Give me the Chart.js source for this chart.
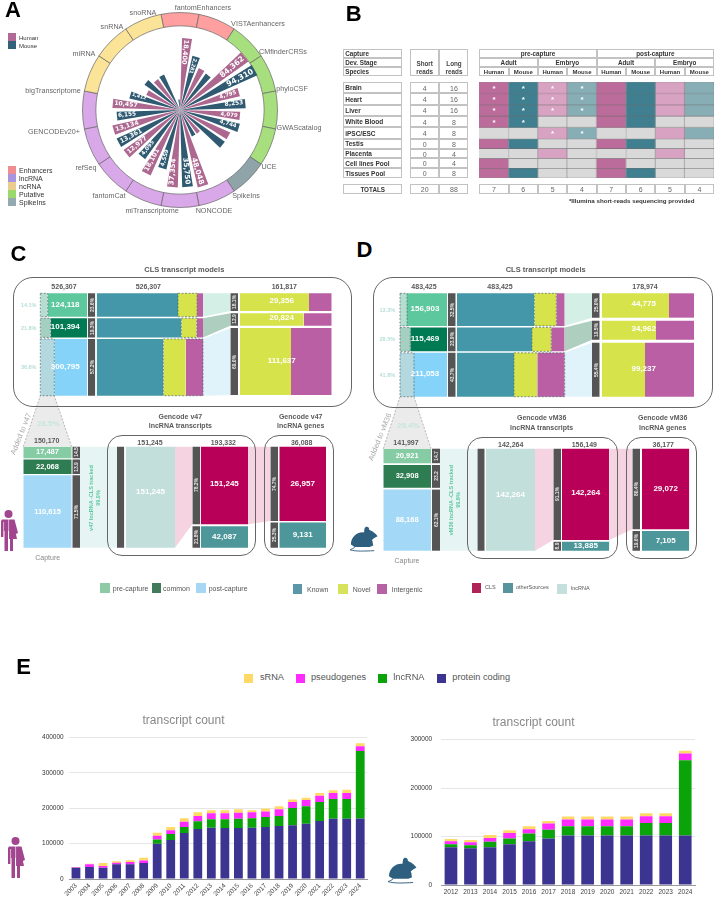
<!DOCTYPE html>
<html>
<head>
<meta charset="utf-8">
<title>CLS figure</title>
<script src="https://cdn.jsdelivr.net/npm/chart.js@4"></script>
<style>
  html, body { margin: 0; padding: 0; background: #fff; }
  #page { position: relative; width: 717px; height: 899px; overflow: hidden; font-family: "Liberation Sans", sans-serif; }
  #page canvas { position: absolute; }
  .txt { position: absolute; white-space: nowrap; line-height: 1; transform-origin: 0 0; z-index: 2; }
  .frame { position: absolute; box-sizing: border-box; border: 1px solid #c2c2c2; background: #fff; }
  .box { position: absolute; box-sizing: border-box; border: 1.3px solid #666; }
  .swatch { position: absolute; }
  svg { position: absolute; }
</style>
</head>
<body>
<div id="page"></div>
<script>
// ---- panel A: values per bar, clockwise, human and mouse in turn
const ringCategories = ["fantomEnhancers", "VISTAenhancers", "CMfinderCRSs", "phyloCSF", "GWAScatalog", "UCE", "SpikeIns", "NONCODE", "miTranscriptome", "fantomCat", "refSeq", "GENCODEv20+", "bigTranscriptome", "miRNA", "snRNA", "snoRNA"];
const ringGroups = ["Enhancers", "Enhancers", "Putative", "Putative", "Putative", "Putative", "SpikeIns", "lncRNA", "lncRNA", "lncRNA", "lncRNA", "lncRNA", "lncRNA", "ncRNA", "ncRNA", "ncRNA"];
const radialCounts = [18400, 2281, 656, 556, 84362, 94310, 4795, 8253, 4079, 4744, 2090, 2090, 75, 75, 48048, 35750, 37354, 4559, 18101, 4095, 12977, 13361, 13134, 6155, 10457, 1412, 207, 481, 235, 267, 0, 7];
const radialTags = ["18,400", "2,281", "", "", "84,362", "94,310", "4,795", "8,253", "4,079", "4,744", "", "", "", "", "48,048", "35,750", "37,354", "4,559", "18,101", "4,095", "12,977", "13,361", "13,134", "6,155", "10,457", "1,412", "", "", "", "", "", ""];

// ---- panel B
const libraryRows = ["Brain", "Heart", "Liver", "White Blood", "iPSC/ESC", "Testis", "Placenta", "Cell lines Pool", "Tissues Pool"];
const shortReads = [4, 4, 4, 4, 4, 0, 0, 0, 0];
const longReads = [16, 16, 16, 8, 8, 8, 4, 4, 8];
const sampled = [
  [1, 1, 1, 1, 1, 1, 1, 1],
  [1, 1, 1, 1, 1, 1, 1, 1],
  [1, 1, 1, 1, 1, 1, 1, 1],
  [1, 1, 0, 0, 1, 1, 0, 0],
  [0, 0, 1, 1, 0, 0, 1, 1],
  [1, 1, 0, 0, 1, 1, 0, 0],
  [0, 0, 1, 0, 0, 0, 1, 0],
  [1, 0, 0, 0, 1, 0, 0, 0],
  [1, 1, 0, 0, 1, 1, 0, 0],
];
const illumina = [
  [1, 1, 1, 1],
  [1, 1, 1, 1],
  [1, 1, 1, 1],
  [1, 1, 0, 0],
  [0, 0, 1, 1],
];
const columnTotals = [7, 6, 5, 4, 7, 6, 5, 4];

// ---- panel C
const cCapture = [124118, 101394, 300795];
const cAddedShare = [15.7, 22, 29.8];
const cAddedPct = ["14.1%", "21.8%", "36.8%"];
const cCapturePct = ["23.6%", "19.3%", "57.2%"];
const cKnown = [76.5, 79.6, 62.7];
const cNovel = [17.9, 14.5, 21.1];
const cModels = [29356, 20824, 111637];
const cModelsPct = ["18.1%", "12.9", "69.0%"];
const cModelsNovel = [75.2, 69.5, 55.6];
const cStack = [17487, 22068, 110615];
const cStackPct = ["14.5", "13.9", "71.5%"];
const cTranscripts = [151245, 42087];
const cTranscriptsPct = ["78.2%", "21.8%"];
const cGenes = [26957, 9131];
const cGenesPct = ["74.7%", "25.3%"];

// ---- panel D
const dCapture = [156903, 115469, 211053];
const dAddedShare = [14.9, 21.9, 29.8];
const dAddedPct = ["13.3%", "28.5%", "41.8%"];
const dCapturePct = ["32.5%", "23.9%", "43.7%"];
const dKnown = [71.8, 69.6, 52.9];
const dNovel = [20.4, 17.9, 21.6];
const dModels = [44775, 34962, 99237];
const dModelsPct = ["25.0%", "19.5%", "55.4%"];
const dModelsNovel = [72.9, 58.8, 46.9];
const dStack = [20921, 32908, 88168];
const dStackPct = ["14.7", "23.2", "62.1%"];
const dTranscripts = [142264, 13885];
const dTranscriptsPct = ["91.1%", "8.9"];
const dGenes = [29072, 7105];
const dGenesPct = ["80.4%", "19.6%"];

// ---- panel E
const humanYears = ["2003", "2004", "2005", "2006", "2007", "2008", "2009", "2010", "2011", "2012", "2013", "2014", "2015", "2016", "2017", "2018", "2019", "2020", "2021", "2022", "2023", "2024"];
const humanProtein = [32000, 34000, 32000, 42000, 42000, 45000, 100000, 110000, 130000, 141000, 145000, 144000, 144000, 145000, 147000, 150000, 152000, 156000, 164000, 170000, 170000, 171000];
const humanLnc = [0, 0, 0, 0, 0, 0, 12000, 17000, 17000, 22000, 24000, 25000, 26000, 27000, 28000, 28000, 49000, 50000, 54000, 56000, 56000, 191000];
const humanPseudo = [1500, 8000, 5000, 4000, 6000, 7000, 10000, 11000, 15000, 15000, 17000, 17000, 17000, 17000, 16000, 19000, 17000, 17000, 17000, 17000, 17000, 13000];
const humanSrna = [500, 1000, 8000, 4000, 5000, 8000, 9000, 9000, 10000, 11000, 8000, 8000, 10000, 5000, 8000, 9000, 7000, 7000, 8000, 8000, 9000, 9000];
const mouseYears = ["2012", "2013", "2014", "2015", "2016", "2017", "2018", "2019", "2020", "2021", "2022", "2023", "2024"];
const mouseProtein = [78000, 76000, 78000, 84000, 90000, 96000, 102000, 102000, 102000, 102000, 102000, 102000, 102000];
const mouseLnc = [6000, 6000, 11000, 12000, 16000, 18000, 19000, 19000, 19000, 19000, 26000, 26000, 155000];
const mousePseudo = [6000, 6000, 8000, 11000, 9000, 13000, 14000, 14000, 14000, 14000, 14000, 14000, 14000];
const mouseSrna = [5000, 5000, 6000, 6000, 6000, 5000, 6000, 6000, 6000, 6000, 6000, 6000, 6000];

const page = document.getElementById("page");
const GREY = "#5a5a5a";
const FMT = (n) => n.toLocaleString("en-US");

// rotation goes round the anchor, so the anchor stays where it was asked to be
function label(text, x, y, o = {}) {
  const el = document.createElement("div");
  el.className = "txt";
  el.textContent = text;
  const size = o.size || 7;
  el.style.cssText = `left:${x}px;top:${y}px;font-size:${size}px;color:${o.color || GREY};font-weight:${o.weight || "normal"};font-family:${o.family || '"Liberation Sans"'};`;
  const tx = o.align === "left" ? "0" : "-50%";
  el.style.transform = `rotate(${o.rot || 0}deg) translate(${tx},-50%)`;
  page.appendChild(el);
}
function bold(text, x, y, size, color, rot) {
  label(text, x, y, { size, color: color || GREY, weight: "bold", rot: rot || 0 });
}
function swatch(x0, y0, size, color) {
  const el = document.createElement("div");
  el.className = "swatch";
  el.style.cssText = `left:${x0}px;top:${y0}px;width:${size}px;height:${size}px;background:${color};`;
  page.appendChild(el);
}
function frame(x0, x1, y0, y1) {
  const el = document.createElement("div");
  el.className = "frame";
  el.style.cssText = `left:${x0}px;top:${y0}px;width:${x1 - x0}px;height:${y1 - y0}px;`;
  page.appendChild(el);
}
function roundBox(x0, x1, y0, y1, r) {
  const el = document.createElement("div");
  el.className = "box";
  el.style.cssText = `left:${x0}px;top:${y0}px;width:${x1 - x0}px;height:${y1 - y0}px;border-radius:${r}px;`;
  page.appendChild(el);
}
function addCanvas(x, y, w, h) {
  const c = document.createElement("canvas");
  c.width = w;
  c.height = h;
  c.style.cssText = `left:${x}px;top:${y}px;width:${w}px;height:${h}px;`;
  page.appendChild(c);
  return c;
}
function humanIcon(x, y, w, h) {
  page.insertAdjacentHTML("beforeend", `<svg style="left:${x}px;top:${y}px" width="${w}" height="${h}" viewBox="0 0 18 41" fill="#a2458f"><circle cx="8.5" cy="4" r="4"/><path d="M2 9.5H14.5L18 23 15.8 24 14 15 17 29H13V41H10V29H9V21H8V41H4.5V21H3.8V27H1V11Z"/><path d="M3.6 12V27M8.6 9V41" stroke="#fff" stroke-width=".6"/></svg>`);
}
function mouseIcon(x, y, w, h) {
  page.insertAdjacentHTML("beforeend", `<svg style="left:${x}px;top:${y}px" width="${w}" height="${h}" viewBox="0 0 30 28" fill="#2f5f7e"><path d="M1 20C1 11 9 6 15 7L15.5 3C16.5-.5 21 .5 20.5 4L22 5C25 6 28 9 29.5 11L26 13 23.5 15C25 17 24 20 25 21L21 22.5H5Z"/><path d="M5 23C2 25 0 25.5 0 25.5 6 27.5 15 27 26 26.5" fill="none" stroke="#2f5f7e" stroke-width="1"/></svg>`);
}

// ---------------------------------------------------------------- panel A
const RING_COLORS = { Enhancers: "#ff9f9f", Putative: "#a7de7e", SpikeIns: "#8fa4a9", lncRNA: "#d9a8e8", ncRNA: "#fbe398" };
const LEGEND_COLORS = { Enhancers: "#ee8e8e", lncRNA: "#a996e2", ncRNA: "#ebcd8d", Putative: "#9ad96c", SpikeIns: "#95a9b0" };
const ringLabelAt = [[203, 8], [258, 24], [283, 52], [292, 89], [299, 128], [269, 167], [246, 196], [214, 211], [152, 211], [109, 196], [86, 168], [54, 132], [53, 91], [84, 54], [112, 27], [143, 13]];
const RADIAL_MIN = 0.26;
const RADIAL_MAX = 5.82;
const CX = 179.5;
const CY = 109.7;

new Chart(addCanvas(CX - 100, CY - 100, 200, 200), {
  type: "doughnut",
  data: {
    labels: ringCategories,
    datasets: [{
      data: ringCategories.map(() => 1),
      backgroundColor: ringGroups.map((g) => RING_COLORS[g]),
      borderColor: "#666",
      borderWidth: 0.7,
    }],
  },
  options: {
    animation: false,
    responsive: false,
    radius: 97.5,
    cutout: 86,
    rotation: -11.25,
    plugins: { legend: { display: false }, tooltip: { enabled: false } },
  },
});

// every second slice is an empty spacer, so the wedges stand apart
const radialData = [];
const radialColors = [];
radialCounts.forEach((v, i) => {
  radialData.push(Math.max(RADIAL_MIN, Math.log10(v)));
  radialColors.push(i % 2 ? "#2f5a72" : "#ad6890");
  radialData.push(RADIAL_MIN);
  radialColors.push("rgba(0,0,0,0)");
});
const radialChart = new Chart(addCanvas(CX - 100, CY - 100, 200, 200), {
  type: "polarArea",
  data: {
    labels: radialData.map(() => ""),
    datasets: [{
      data: radialData,
      backgroundColor: radialColors,
      borderWidth: 0,
      circular: false,
      angle: (ctx) => (ctx.dataIndex % 2 ? 3.25 : 8),
    }],
  },
  options: {
    animation: false,
    responsive: false,
    layout: { padding: 0 },
    scales: { r: { display: false, min: RADIAL_MIN, max: RADIAL_MAX, startAngle: 1.625 } },
    plugins: { legend: { display: false }, tooltip: { enabled: false } },
  },
});

const measure = document.createElement("canvas").getContext("2d");
radialTags.forEach((tag, i) => {
  if (!tag) return;
  const bearing = 5.625 + 11.25 * i;
  const rad = (bearing * Math.PI) / 180;
  const tip = radialChart.scales.r.getDistanceFromCenterForValue(Math.log10(radialCounts[i]));
  const size = tip * 0.09;
  const font = '"DejaVu Sans"';
  measure.font = `bold ${size}px ${font}`;
  const r = tip - measure.measureText(tag).width / 2 - 2;
  const rot = bearing < 20 ? bearing + 90 : bearing < 180 ? bearing - 90 : bearing - 270;
  label(tag, CX + r * Math.sin(rad), CY - r * Math.cos(rad), { size, color: "#fff", weight: "bold", family: font, rot });
});
ringCategories.forEach((name, i) => {
  label(name, ringLabelAt[i][0], ringLabelAt[i][1], { size: 7.2, color: "#666" });
});
[["Human", "#b06a95"], ["Mouse", "#33617a"]].forEach(([name, color], i) => {
  swatch(8, 33 + i * 8, 8, color);
  label(name, 19, 37.5 + i * 8, { size: 6, color: "#333", align: "left" });
});
Object.keys(LEGEND_COLORS).forEach((name, i) => {
  swatch(8, 166 + i * 8.1, 8, LEGEND_COLORS[name]);
  label(name, 19, 170 + i * 8.1, { size: 7, color: "#333", align: "left" });
});

// ---------------------------------------------------------------- panel B
const HEAT_COLORS = ["#bc6c9b", "#3f7f90", "#d8a2c2", "#88aeb5"];
const HEAT_LEFT = 479.3;
const HEAT_RIGHT = 714;
const COL_W = (HEAT_RIGHT - HEAT_LEFT) / 8;
const ROW_EDGES = [82, 93.3, 104.7, 116, 127.3, 138.7, 148.7, 158.3, 168.3, 178.3];

function heatBlock(first, last) {
  const top = ROW_EDGES[first];
  const h = ROW_EDGES[last] - top;
  const names = libraryRows.slice(first, last);
  const datasets = columnTotals.map((_, col) => ({
    data: names.map(() => 1),
    backgroundColor: names.map((_, r) => (sampled[first + r][col] ? HEAT_COLORS[col % 4] : "#d9d9d9")),
    borderColor: "#6d6d6d",
    borderWidth: 0.5,
    barPercentage: 1,
    categoryPercentage: 1,
  }));
  new Chart(addCanvas(HEAT_LEFT, top, HEAT_RIGHT - HEAT_LEFT, h), {
    type: "bar",
    data: { labels: names, datasets },
    options: {
      animation: false,
      responsive: false,
      indexAxis: "y",
      layout: { padding: 0 },
      scales: {
        x: { display: false, stacked: true, min: 0, max: 8 },
        y: { display: false, stacked: true },
      },
      plugins: { legend: { display: false }, tooltip: { enabled: false } },
    },
  });
}
heatBlock(0, 5);
heatBlock(5, 9);

const headBand = [49, 58, 67, 76];
["Capture", "Dev. Stage", "Species"].forEach((name, i) => {
  frame(343.3, 401.7, headBand[i], headBand[i + 1]);
  label(name, 345.2, (headBand[i] + headBand[i + 1]) / 2 + 0.3, { size: 6.3, color: "#333", weight: "bold", align: "left" });
});
frame(410, 439.3, 49, 76);
frame(439.3, 468.3, 49, 76);
[["Short", 424.7], ["Long", 454]].forEach(([name, x]) => {
  bold(name, x, 64.3, 6.3, "#444");
  bold("reads", x, 71.7, 6.3, "#444");
});
["pre-capture", "post-capture"].forEach((name, i) => {
  const x0 = HEAT_LEFT + i * 4 * COL_W;
  frame(x0, x0 + 4 * COL_W, 49, 58);
  bold(name, x0 + 2 * COL_W, 53.7, 6.3, "#333");
  ["Adult", "Embryo"].forEach((stage, j) => {
    const x1 = x0 + j * 2 * COL_W;
    frame(x1, x1 + 2 * COL_W, 58, 67);
    bold(stage, x1 + COL_W, 62.7, 6.3, "#333");
    ["Human", "Mouse"].forEach((sp, k) => {
      const x2 = x1 + k * COL_W;
      frame(x2, x2 + COL_W, 67, 76);
      bold(sp, x2 + COL_W / 2, 71.7, 6, "#333");
    });
  });
});
libraryRows.forEach((name, r) => {
  const y0 = ROW_EDGES[r];
  const y1 = ROW_EDGES[r + 1];
  const mid = (y0 + y1) / 2;
  frame(343.3, 401.7, y0, y1);
  frame(410, 439.3, y0, y1);
  frame(439.3, 468.3, y0, y1);
  label(name, 345.2, mid + 0.5, { size: 6.5, color: "#333", weight: "bold", align: "left" });
  label(String(shortReads[r]), 424.7, mid, { size: 7, color: "#666" });
  label(String(longReads[r]), 454, mid, { size: 7, color: "#666" });
});
illumina.forEach((row, r) => {
  row.forEach((on, col) => {
    if (on) bold("*", HEAT_LEFT + (col + 0.5) * COL_W, (ROW_EDGES[r] + ROW_EDGES[r + 1]) / 2 + 1, 8, "#fff");
  });
});
frame(343.3, 401.7, 184, 194);
bold("TOTALS", 372.7, 189.5, 6.3, "#333");
frame(410, 439.3, 184, 194);
frame(439.3, 468.3, 184, 194);
label(String(shortReads.reduce((a, b) => a + b, 0)), 424.7, 189, { size: 7, color: "#666" });
label(String(longReads.reduce((a, b) => a + b, 0)), 454, 189, { size: 7, color: "#666" });
columnTotals.forEach((n, col) => {
  frame(HEAT_LEFT + col * COL_W, HEAT_LEFT + (col + 1) * COL_W, 184, 194);
  label(String(n), HEAT_LEFT + (col + 0.5) * COL_W, 189, { size: 7, color: "#666" });
});
bold("*Illumina short-reads sequencing provided", 631.7, 200.7, 6.2, "#333");

// ---------------------------------------------------------------- panels C, D
const FLOW = {
  added: ["#b5ddd0", "#a5cfc0", "#b3d8e0"],
  capture: ["#5dc79e", "#007a53", "#86d3fa"],
  stack: ["#85cba4", "#2e7d52", "#a3d8f7"],
  links: ["#d4f0e6", "#aecfc0", "#e0f3fb"],
  known: "#4497a8",
  novel: "#d6e34a",
  intergenic: "#bb5fa4",
  dark: "#555",
  cls: "#b80058",
  other: "#4d979b",
  lnc: "#c2dfdc",
  pink: "#f5d3e0",
};

// heights follow the values, with small gaps taken off the block first
function rowsOf(values, top, bottom, gap) {
  const total = values.reduce((a, b) => a + b, 0);
  const free = bottom - top - gap * (values.length - 1);
  let y = top;
  return values.map((v) => {
    const y0 = y;
    const y1 = y0 + (free * v) / total;
    y = y1 + gap;
    return { y0, y1, mid: (y0 + y1) / 2 };
  });
}
function rect(x0, x1, y0, y1, color) {
  return { data: [{ x: x0, y: y0 }, { x: x1, y: y0 }], fill: { value: y1 }, backgroundColor: color, borderWidth: 0 };
}
function band(x0, x1, a0, a1, b0, b1, color) {
  return [
    { data: [{ x: x0, y: a0 }, { x: x1, y: a1 }], fill: "+1", backgroundColor: color, borderWidth: 0 },
    { data: [{ x: x0, y: b0 }, { x: x1, y: b1 }], fill: false, borderWidth: 0 },
  ];
}
function dashed(points, color) {
  return { data: points, fill: false, borderColor: color || "#4d6a6a", borderWidth: 0.7, borderDash: [2, 1.5] };
}
function outline(x0, x1, y0, y1) {
  return dashed([{ x: x0, y: y0 }, { x: x1, y: y0 }, { x: x1, y: y1 }, { x: x0, y: y1 }, { x: x0, y: y0 }]);
}

function flowPanel(p) {
  const L = p.layout;
  const fills = [];
  const lines = [];
  const top = rowsOf(p.capture, L.topY, L.topB, 1.5);
  const right = rowsOf(p.models, L.topY, L.rightB, L.rightGap);
  const low = rowsOf(p.stack, L.lowY, L.lowB, L.stackGap);
  const tr = rowsOf(p.transcripts, L.lowY, L.lowB, L.trGap);
  const ge = rowsOf(p.genes, L.lowY, L.lowB, L.geGap);
  const capW = L.cap[1] - L.cap[0];
  const segW = L.seg[1] - L.seg[0];
  const rW = L.right[1] - L.right[0];

  top.forEach((row, i) => {
    const xAdd = L.cap[0] + (capW * p.addedShare[i]) / 100;
    fills.push(rect(L.cap[0], xAdd, row.y0, row.y1, FLOW.added[i]));
    fills.push(rect(xAdd, L.cap[1], row.y0, row.y1, FLOW.capture[i]));
    lines.push(outline(L.cap[0], xAdd, row.y0, row.y1));
    fills.push(rect(L.pct[0], L.pct[1], row.y0, row.y1, FLOW.dark));
    const xKnown = L.seg[0] + (segW * p.known[i]) / 100;
    const xNovel = xKnown + (segW * p.novel[i]) / 100;
    fills.push(rect(L.seg[0], xKnown, row.y0, row.y1, FLOW.known));
    fills.push(rect(xKnown, xNovel, row.y0, row.y1, FLOW.novel));
    fills.push(rect(xNovel, L.seg[1], row.y0, row.y1, FLOW.intergenic));
    lines.push(outline(xKnown, i === 2 ? L.seg[1] : xNovel, row.y0, row.y1));
    fills.push(...band(L.seg[1], L.rpct[0], row.y0, right[i].y0, row.y1, right[i].y1, FLOW.links[i]));
    label(FMT(p.capture[i]), L.cap[0] + capW / 2 + 1.5, row.mid - 0.5, { size: 8, color: "#fff", weight: "bold" });
    label(p.addedPct[i], L.addedX, row.mid + 1, { size: 5.5, color: "#b7ded8", weight: "bold" });
    bold(p.capturePct[i], (L.pct[0] + L.pct[1]) / 2, row.mid, 5, "#e8e8e8", -90);
  });
  right.forEach((row, i) => {
    const xNovel = L.right[0] + (rW * p.modelsNovel[i]) / 100;
    fills.push(rect(L.rpct[0], L.rpct[1], row.y0, row.y1, FLOW.dark));
    fills.push(rect(L.right[0], xNovel, row.y0, row.y1, FLOW.novel));
    fills.push(rect(xNovel, L.right[1], row.y0, row.y1, FLOW.intergenic));
    label(FMT(p.models[i]), L.right[0] + rW * 0.455, row.mid - 1, { size: 8, color: "#fff", weight: "bold" });
    bold(p.modelsPct[i], (L.rpct[0] + L.rpct[1]) / 2, row.mid, 5, "#e8e8e8", -90);
  });

  // grey funnel from the post-capture block down to the capture stack
  const added = L.cap[0] + (capW * p.addedShare[2]) / 100;
  fills.push({
    data: [{ x: L.stack[0], y: L.lowY }, { x: L.cap[0], y: L.topB }, { x: added, y: L.topB }, { x: L.stack[1], y: L.lowY }],
    fill: { value: L.lowY },
    backgroundColor: "#ebebeb",
    borderWidth: 0,
  });
  lines.push(dashed([{ x: L.stack[0], y: L.lowY }, { x: L.cap[0], y: L.topB }], "#999"));
  lines.push(dashed([{ x: L.stack[1], y: L.lowY }, { x: added, y: L.topB }], "#999"));

  low.forEach((row, i) => {
    fills.push(rect(L.stack[0], L.stack[1], row.y0, row.y1, FLOW.stack[i]));
    fills.push(rect(L.spct[0], L.spct[1], row.y0, row.y1, FLOW.dark));
    label(FMT(p.stack[i]), (L.stack[0] + L.stack[1]) / 2, row.mid, { size: 7.5, color: "#fff", weight: "bold" });
    bold(p.stackPct[i], (L.spct[0] + L.spct[1]) / 2, row.mid, 5, "#e8e8e8", -90);
  });
  const lowEnd = low[2].y1;
  fills.push(rect(L.spct[1], L.bar[0], L.lowY, lowEnd, "#e6f5f3"));
  fills.push(rect(L.bar[0], L.bar[1], L.lowY, L.lowB, FLOW.dark));
  fills.push(rect(L.lnc[0], L.lnc[1], L.lowY, L.lowB, FLOW.lnc));
  label(FMT(p.transcripts[0]), (L.lnc[0] + L.lnc[1]) / 2, L.lnc[2], { size: 8, color: "#fff", weight: "bold" });

  fills.push(...band(L.lnc[1], L.trPct[0], L.lowY, L.lowY, L.lowB, tr[0].y1, FLOW.pink));
  fills.push(...band(L.tr[1], L.gePct[0], L.lowY, L.lowY, tr[0].y1, ge[0].y1, FLOW.pink));
  tr.forEach((row, i) => {
    fills.push(rect(L.trPct[0], L.trPct[1], row.y0, row.y1, FLOW.dark));
    fills.push(rect(L.tr[0], L.tr[1], row.y0, row.y1, i ? FLOW.other : FLOW.cls));
    label(FMT(p.transcripts[i]), (L.tr[0] + L.tr[1]) / 2, i ? row.mid : row.mid - 1, { size: 8, color: "#fff", weight: "bold" });
    bold(p.transcriptsPct[i], (L.trPct[0] + L.trPct[1]) / 2, row.mid, 5, "#e8e8e8", -90);
  });
  ge.forEach((row, i) => {
    fills.push(rect(L.gePct[0], L.gePct[1], row.y0, row.y1, FLOW.dark));
    fills.push(rect(L.ge[0], L.ge[1], row.y0, row.y1, i ? FLOW.other : FLOW.cls));
    label(FMT(p.genes[i]), (L.ge[0] + L.ge[1]) / 2, row.mid, { size: 8, color: "#fff", weight: "bold" });
    bold(p.genesPct[i], (L.gePct[0] + L.gePct[1]) / 2, row.mid, 5, "#e8e8e8", -90);
  });

  const [cx0, cx1, cy0, cy1] = L.canvas;
  const datasets = lines.concat(fills).map((d) => Object.assign({ showLine: true, pointRadius: 0 }, d));
  new Chart(addCanvas(cx0, cy0, cx1 - cx0, cy1 - cy0), {
    type: "scatter",
    data: { datasets },
    options: {
      animation: false,
      responsive: false,
      layout: { padding: 0 },
      scales: {
        x: { type: "linear", display: false, min: cx0, max: cx1 },
        y: { type: "linear", display: false, min: cy0, max: cy1, reverse: true },
      },
      plugins: { legend: { display: false }, tooltip: { enabled: false } },
    },
  });
}

flowPanel({
  capture: cCapture, addedShare: cAddedShare, addedPct: cAddedPct, capturePct: cCapturePct,
  known: cKnown, novel: cNovel, models: cModels, modelsPct: cModelsPct, modelsNovel: cModelsNovel,
  stack: cStack, stackPct: cStackPct, transcripts: cTranscripts, transcriptsPct: cTranscriptsPct,
  genes: cGenes, genesPct: cGenesPct,
  layout: {
    canvas: [0, 356, 280, 562],
    topY: 293.3, topB: 395.7, rightB: 395, rightGap: 2.3,
    lowY: 446.7, lowB: 547.7, stackGap: 1.4, trGap: 2, geGap: 1.5,
    cap: [40.3, 87.3], pct: [88, 95.3], seg: [96.7, 203], rpct: [230.3, 238], right: [240, 331.7],
    addedX: 28.7, stack: [23.3, 71.7], spct: [72.3, 80], bar: [116.7, 124.3], lnc: [126, 175, 492.3],
    trPct: [192.3, 200], tr: [200.7, 248], gePct: [270.3, 278], ge: [279.3, 326],
  },
});
flowPanel({
  capture: dCapture, addedShare: dAddedShare, addedPct: dAddedPct, capturePct: dCapturePct,
  known: dKnown, novel: dNovel, models: dModels, modelsPct: dModelsPct, modelsNovel: dModelsNovel,
  stack: dStack, stackPct: dStackPct, transcripts: dTranscripts, transcriptsPct: dTranscriptsPct,
  genes: dGenes, genesPct: dGenesPct,
  layout: {
    canvas: [358, 717, 280, 562],
    topY: 293.3, topB: 396.7, rightB: 396.7, rightGap: 3,
    lowY: 448.7, lowB: 550.7, stackGap: 1.8, trGap: 1.7, geGap: 1.7,
    cap: [400, 447], pct: [448, 455.7], seg: [457, 564.7], rpct: [592, 599.7], right: [601.7, 694],
    addedX: 387.3, stack: [383.3, 431], spct: [432, 440], bar: [477.3, 484.7], lnc: [486, 535, 494.7],
    trPct: [553.3, 561], tr: [562, 609.3], gePct: [632.3, 640], ge: [642, 689.3],
  },
});

// frames and headings of C and D
roundBox(13.3, 352, 276.7, 407.3, 20);
roundBox(106.7, 256, 435, 556, 15);
roundBox(264.3, 334.3, 435, 556, 15);
bold("CLS transcript models", 184.3, 269.7, 7.5);
bold("526,307", 64, 286.3, 7);
bold("526,307", 148.3, 286.3, 7);
bold("161,817", 284.3, 286.3, 7);
bold("Gencode v47", 180.3, 415.7, 7);
bold("lncRNA transcripts", 180.3, 425.3, 7);
bold("Gencode v47", 300.7, 415.7, 7);
bold("lncRNA genes", 300.7, 425.3, 7);
bold("151,245", 150, 441.7, 7);
bold("193,332", 223.3, 441.7, 7);
bold("36,088", 301.7, 441.7, 7);
bold("150,170", 46.7, 440, 7);
bold("28.5%", 48.3, 424, 8, "#c5e6dd");
label("Added to v47", 20.7, 434, { size: 7.5, color: "#aaa", rot: -68 });
label("Capture", 47.7, 556.7, { size: 7, color: "#888" });
bold("v47 lncRNA -CLS tracked", 91.7, 498, 5.5, "#5dc79e", -90);
bold("99.9%", 99.3, 498, 5.5, "#5dc79e", -90);

roundBox(372.7, 712.7, 276.7, 408.3, 20);
roundBox(466.7, 617.7, 436.7, 559.3, 15);
roundBox(626, 697.3, 436.7, 559.3, 15);
bold("CLS transcript models", 545.7, 269.7, 7.5);
bold("483,425", 424, 286.3, 7);
bold("483,425", 500, 286.3, 7);
bold("178,974", 645, 286.3, 7);
bold("Gencode vM36", 541.7, 417.3, 7);
bold("lncRNA transcripts", 541.7, 427, 7);
bold("Gencode vM36", 662.7, 417.3, 7);
bold("lncRNA genes", 662.7, 427, 7);
bold("142,264", 510.7, 443.7, 7);
bold("156,149", 584.3, 443.7, 7);
bold("36,177", 663.3, 443.7, 7);
bold("141,997", 406, 441.7, 7);
bold("29.4%", 408.3, 425.7, 8, "#c5e6dd");
label("Added to vM36", 380, 436.7, { size: 7.5, color: "#aaa", rot: -68 });
label("Capture", 407, 559.7, { size: 7, color: "#888" });
bold("vM36 lncRNA -CLS tracked", 451.7, 500, 5.5, "#5dc79e", -90);
bold("99.8%", 459.3, 500, 5.5, "#5dc79e", -90);

// legends under C and D
[
  ["pre-capture", 100.3, 583.3, "#8fcaa6", 112.7, 7],
  ["common", 151.7, 583.3, "#447a5c", 163, 7],
  ["post-capture", 196, 583.3, "#a7d7f5", 208.7, 7],
  ["Known", 292.7, 584.3, "#5a98a8", 307, 7],
  ["Novel", 338.3, 584.3, "#d8e35c", 352.7, 7],
  ["Intergenic", 377.3, 584.3, "#b563a5", 391.7, 7],
  ["CLS", 471.7, 583.3, "#b0225a", 485, 5.5],
  ["otherSources", 503, 583.3, "#58949c", 516, 5.5],
  ["lncRNA", 557, 584.3, "#c4dfdc", 571, 5.5],
].forEach(([name, sx, sy, color, tx, size]) => {
  swatch(sx, sy, 9.5, color);
  label(name, tx, sy + 4.8, { size, color: "#555", align: "left" });
});

humanIcon(0, 510, 18, 41);
mouseIcon(350, 525, 28, 28);

// ---------------------------------------------------------------- panel E
const E_COLORS = { protein: "#3b3491", lnc: "#0aa40a", pseudo: "#ff2bff", srna: "#ffd966" };

function countChart(o) {
  const sets = [
    ["protein coding", o.protein, E_COLORS.protein],
    ["lncRNA", o.lnc, E_COLORS.lnc],
    ["pseudogenes", o.pseudo, E_COLORS.pseudo],
    ["sRNA", o.srna, E_COLORS.srna],
  ];
  new Chart(addCanvas(o.x, o.y, o.w, o.h), {
    type: "bar",
    data: {
      labels: o.years,
      datasets: sets.map(([name, data, color]) => ({ label: name, data, backgroundColor: color, barPercentage: 0.65, categoryPercentage: 1 })),
    },
    options: {
      animation: false,
      responsive: false,
      layout: { padding: { right: o.padRight, top: 0, left: 0, bottom: 0 } },
      scales: {
        x: {
          stacked: true,
          grid: { display: false, drawTicks: false },
          border: { display: true, color: "#999" },
          ticks: { color: "#444", font: { size: o.xFont, family: "Liberation Sans" }, maxRotation: o.rot, minRotation: o.rot, autoSkip: false, padding: o.xPad },
          afterFit: (s) => { s.height = o.xAxisH; },
        },
        y: {
          stacked: true,
          min: 0,
          max: o.max,
          border: { display: false },
          grid: { color: "#e6e6e6", drawTicks: false },
          ticks: { stepSize: 100000, color: "#333", font: { size: 6.5, family: "Liberation Sans" }, padding: o.yPad, callback: (v) => String(v) },
          afterFit: (s) => { s.width = o.yAxisW; },
        },
      },
      plugins: {
        legend: { display: false },
        tooltip: { enabled: false },
        title: {
          display: true,
          text: "transcript count",
          color: "#888",
          font: { size: 12, weight: "normal", family: "Liberation Sans" },
          padding: { top: o.titleTop, bottom: o.titleBottom },
        },
      },
    },
  });
}
countChart({
  x: 0, y: 710, w: 372, h: 189, years: humanYears, protein: humanProtein, lnc: humanLnc, pseudo: humanPseudo, srna: humanSrna,
  max: 400000, rot: 45, xFont: 6.5, xAxisH: 20, xPad: 3, yAxisW: 69.2, padRight: 5, yPad: 5.5, titleTop: 3.6, titleBottom: 9.5,
});
countChart({
  x: 372, y: 712, w: 345, h: 187, years: mouseYears, protein: mouseProtein, lnc: mouseLnc, pseudo: mousePseudo, srna: mouseSrna,
  max: 300000, rot: 0, xFont: 6.5, xAxisH: 14, xPad: 3, yAxisW: 69.2, padRight: 22, yPad: 9, titleTop: 3.6, titleBottom: 9.5,
});
[
  ["sRNA", 244, E_COLORS.srna, 260],
  ["pseudogenes", 296, E_COLORS.pseudo, 311],
  ["lncRNA", 378, E_COLORS.lnc, 393.3],
  ["protein coding", 437, E_COLORS.protein, 452.3],
].forEach(([name, sx, color, tx]) => {
  swatch(sx, 674, 9, color);
  label(name, tx, 678.3, { size: 9.2, color: "#555", align: "left" });
});
humanIcon(7, 837, 18, 41);
mouseIcon(388, 857, 29, 27);

// panel letters
[["A", 13, 10], ["B", 353.7, 13.5], ["C", 18.5, 253.5], ["D", 364.5, 250], ["E", 23.7, 667]].forEach(([t, x, y]) => {
  label(t, x, y, { size: 22, color: "#000", weight: "bold" });
});
</script>
</body>
</html>
